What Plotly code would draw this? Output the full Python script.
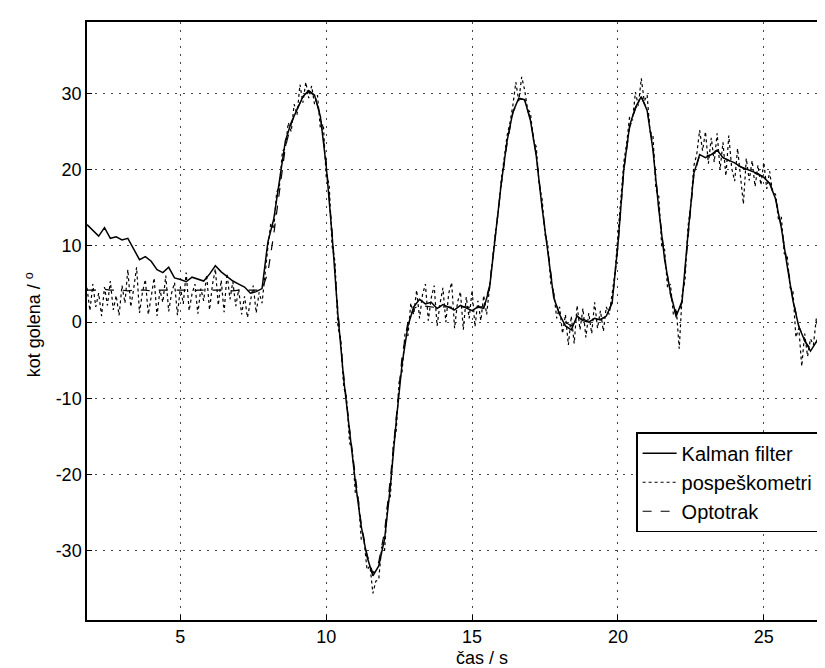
import numpy as np
import plotly.graph_objects as go

# Kalman filter, sampled every 0.2 s from t = 1.8 s
kalman = [
    12.8,                                  # 1.8
    12.0, 11.3, 12.4, 11.0, 11.2,          # 2.0-2.8
    10.8, 11.0, 9.6, 8.2, 8.6,             # 3.0-3.8
    8.0, 6.9, 6.5, 7.2, 5.8,               # 4.0-4.8
    5.6, 5.3, 5.9, 5.7, 5.4,               # 5.0-5.8
    6.3, 7.4, 6.6, 6.0, 5.4,               # 6.0-6.8
    5.0, 4.6, 3.8, 4.0, 4.4,               # 7.0-7.8
    10.5, 13.5, 18.8, 23.8, 26.2,          # 8.0-8.8
    28.0, 29.6, 30.4, 29.8, 27.0,          # 9.0-9.8
    20.5, 11.5, 1.0, -7.5, -14.5,          # 10.0-10.8
    -21.0, -26.8, -30.8, -33.3, -32.0,     # 11.0-11.8
    -28.5, -21.5, -13.0, -5.5, -0.5,       # 12.0-12.8
    2.0, 3.0, 2.4, 2.6, 1.8,               # 13.0-13.8
    2.3, 2.0, 1.6, 2.2, 1.9,               # 14.0-14.8
    1.5, 2.0, 1.8, 4.5, 11.0,              # 15.0-15.8
    18.2, 23.8, 27.6, 29.4, 29.2,          # 16.0-16.8
    26.5, 21.8, 15.0, 8.8, 3.2,            # 17.0-17.8
    1.0, -0.5, -1.0, 0.8, 0.2,             # 18.0-18.8
    0.0, 0.5, 0.3, 0.8, 2.5,               # 19.0-19.8
    10.2, 20.0, 25.8, 28.2, 29.6,          # 20.0-20.8
    27.8, 22.6, 14.8, 8.2, 3.8,            # 21.0-21.8
    0.8, 2.8, 11.5, 19.5, 22.0,            # 22.0-22.8
    21.6, 22.0, 22.6, 21.6, 21.3,          # 23.0-23.8
    20.9, 20.4, 20.1, 19.8, 19.5,          # 24.0-24.8
    19.0, 18.2, 16.2, 12.4, 7.4,           # 25.0-25.8
    2.8, -0.6, -2.4, -3.8, -2.6,           # 26.0-26.8
    -1.2, -0.4,                            # 27.0-27.2
]

# Optotrak reference, sampled every 0.2 s from t = 1.8 s
optotrak = [
    4.2,
    4.2, 4.2, 4.3, 4.2, 4.2,
    4.2, 4.1, 4.2, 4.2, 4.2,
    4.1, 4.2, 4.2, 4.2, 4.2,
    4.2, 4.2, 4.1, 4.2, 4.2,
    4.2, 4.2, 4.2, 4.2, 4.1,
    4.2, 4.2, 4.2, 4.2, 4.3,
    6.5, 11.5, 17.5, 23.0, 26.0,
    28.0, 29.5, 30.2, 29.8, 27.2,
    21.0, 12.0, 1.5, -7.0, -14.0,
    -20.5, -26.5, -30.5, -33.0, -31.5,
    -27.5, -20.5, -12.0, -4.5, 0.0,
    1.8, 2.2, 2.1, 2.0, 1.9,
    2.0, 2.0, 1.9, 2.0, 2.0,
    1.9, 2.0, 2.0, 4.8, 11.2,
    18.0, 23.5, 27.5, 29.3, 29.2,
    26.6, 22.0, 15.2, 9.0, 3.5,
    1.0, 0.0, -0.5, 0.5, 0.4,
    0.1, 0.3, 0.4, 0.8, 2.6,
    10.0, 20.0, 25.5, 28.0, 29.5,
    28.0, 23.0, 15.0, 8.5, 3.6,
    0.6, 2.6, 11.0, 19.2, 21.9,
    21.8, 22.0, 22.3, 21.6, 21.2,
    20.8, 20.3, 20.0, 19.7, 19.3,
    19.0, 18.3, 16.4, 12.5, 7.6,
    3.0, -0.5, -2.5, -3.5, -2.6,
    -1.0, -0.5,
]

# pospeskometri (accelerometers), sampled every 0.1 s from t = 1.8 s
accel = [
    4.5, 1.5,                                                   # 1.8-1.9
    5.0, 2.0, 3.8, 0.8, 4.6, 2.2, 5.4, 1.6, 3.5, 0.9,           # 2
    4.8, 2.5, 6.9, 2.0, 4.4, 7.2, 1.2, 3.9, 5.6, 1.0,           # 3
    3.3, 5.8, 0.8, 4.2, 2.6, 6.1, 1.4, 3.8, 5.2, 0.9,           # 4
    4.6, 2.4, 6.5, 1.5, 3.7, 5.0, 1.1, 4.4, 2.8, 6.2,           # 5
    1.6, 4.9, 7.0, 2.2, 5.5, 1.3, 6.4, 3.0, 5.3, 2.1,           # 6
    4.3, 1.0, 3.4, 0.6, 2.7, 4.8, 1.2, 3.9, 2.5, 6.5,           # 7
    9.8, 13.0, 12.2, 17.0, 18.0, 22.5, 22.8, 26.2, 25.0, 28.6,  # 8
    27.2, 31.2, 28.8, 31.5, 29.4, 31.0, 28.6, 29.8, 25.4, 26.0, # 9
    19.0, 18.2, 10.0, 8.0, -0.5, -2.5, -8.5, -10.0, -15.8, -17.0,   # 10
    -22.5, -23.0, -28.5, -28.8, -32.5, -32.0, -35.6, -34.0, -33.8, -29.5,  # 11
    -30.0, -24.0, -22.8, -16.0, -14.2, -7.8, -6.5, -1.5, -1.8, 2.5,  # 12
    1.0, 4.2, 0.5, 3.6, 5.0, 0.2, 3.2, 4.8, -0.5, 2.4,          # 13
    4.5, 0.0, 3.8, 5.2, -0.8, 2.6, 4.0, -1.0, 3.3, 0.5,         # 14
    4.2, -0.6, 2.8, 0.2, 3.5, 1.0, 4.8, 8.0, 11.8, 14.5,        # 15
    18.8, 21.5, 24.5, 26.2, 28.5, 31.5, 29.0, 32.2, 30.5, 28.0, # 16
    27.5, 24.0, 23.0, 18.0, 16.2, 11.5, 10.0, 5.0, 4.0, 0.5,    # 17
    2.0, -1.5, 1.0, -3.0, 0.8, -2.8, 2.2, -1.0, 1.8, -2.0,      # 18
    1.2, -1.5, 2.6, -0.8, 1.5, -1.2, 2.0, 1.0, 4.0, 6.5,        # 19
    11.5, 15.8, 21.0, 23.5, 27.0, 26.5, 30.2, 28.4, 32.0, 29.0, # 20
    29.8, 25.0, 24.5, 17.5, 16.5, 10.0, 9.5, 4.5, 5.0, 1.0,     # 21
    1.8, -3.5, 3.5, 5.5, 12.5, 15.5, 20.5, 22.0, 25.2, 22.5,    # 22
    25.0, 20.8, 24.2, 21.0, 24.8, 20.0, 23.6, 19.2, 24.5, 20.2, # 23
    18.5, 22.8, 19.0, 15.5, 21.5, 18.6, 21.2, 17.8, 20.6, 18.0, # 24
    21.0, 17.5, 19.8, 17.0, 16.8, 13.5, 13.8, 9.0, 8.8, 4.5,    # 25
    4.0, -2.0, -0.8, -5.8, -1.5, -4.5, -2.2, -3.0, 0.5, -2.5,   # 26
    1.5, -1.0, 0.8,                                             # 27.0-27.2
]

t_start = 1.8
t_kalman = np.round(t_start + 0.2 * np.arange(len(kalman)), 2)
t_opto = np.round(t_start + 0.2 * np.arange(len(optotrak)), 2)
t_accel = np.round(t_start + 0.1 * np.arange(len(accel)), 2)

x_ticks = [5, 10, 15, 20, 25]
x_ticktext = ["5", "10", "15", "20", "25"]
y_ticks = [-30, -20, -10, 0, 10, 20, 30]
y_ticktext = ["-30", "-20", "-10", "0", "10", "20", "30"]

x_title = "čas / s"
y_title = "kot golena / <sup>o</sup>"

FONT = "Liberation Sans, Arial, sans-serif"

fig = go.Figure()
fig.add_trace(go.Scatter(x=t_kalman, y=kalman, mode="lines", name="Kalman filter",
                         line=dict(color="black", width=1.5)))
fig.add_trace(go.Scatter(x=t_accel, y=accel, mode="lines", name="pospeškometri",
                         line=dict(color="black", width=1.2, dash="dot")))
fig.add_trace(go.Scatter(x=t_opto, y=optotrak, mode="lines", name="Optotrak",
                         line=dict(color="black", width=1.2, dash="dash")))

axis_common = dict(
    showline=True, linecolor="black", linewidth=1.5, mirror=True,
    ticks="inside", ticklen=5, tickcolor="black", tickwidth=1,
    showgrid=True, gridcolor="#444444", gridwidth=1, griddash="2px,6px",
    zeroline=False,
    tickfont=dict(family=FONT, size=18, color="black"),
)

fig.update_layout(
    width=825, height=668,
    margin=dict(l=79, r=3, t=14, b=56),
    paper_bgcolor="white", plot_bgcolor="white",
    font=dict(family=FONT, size=18, color="black"),
    showlegend=True,
    legend=dict(
        x=0.988, y=0.314, xanchor="right", yanchor="top",
        bgcolor="white", bordercolor="black", borderwidth=1.5,
        font=dict(family=FONT, size=20, color="black"),
        tracegroupgap=0, itemwidth=34,
    ),
    xaxis=dict(range=[1.8, 27.2], tickvals=x_ticks, ticktext=x_ticktext,
               **axis_common),
    yaxis=dict(range=[-39.1, 39.4], tickvals=y_ticks, ticktext=y_ticktext,
               **axis_common),
    annotations=[
        dict(text=x_title, xref="paper", yref="paper", x=0.533, y=-0.0635,
             xanchor="center", yanchor="middle", showarrow=False,
             font=dict(family=FONT, size=18, color="black")),
        dict(text=y_title, xref="paper", yref="paper", x=-0.0727, y=0.493,
             xanchor="center", yanchor="middle", showarrow=False, textangle=-90,
             font=dict(family=FONT, size=18, color="black")),
    ],
)

fig.write_html("out.html")
